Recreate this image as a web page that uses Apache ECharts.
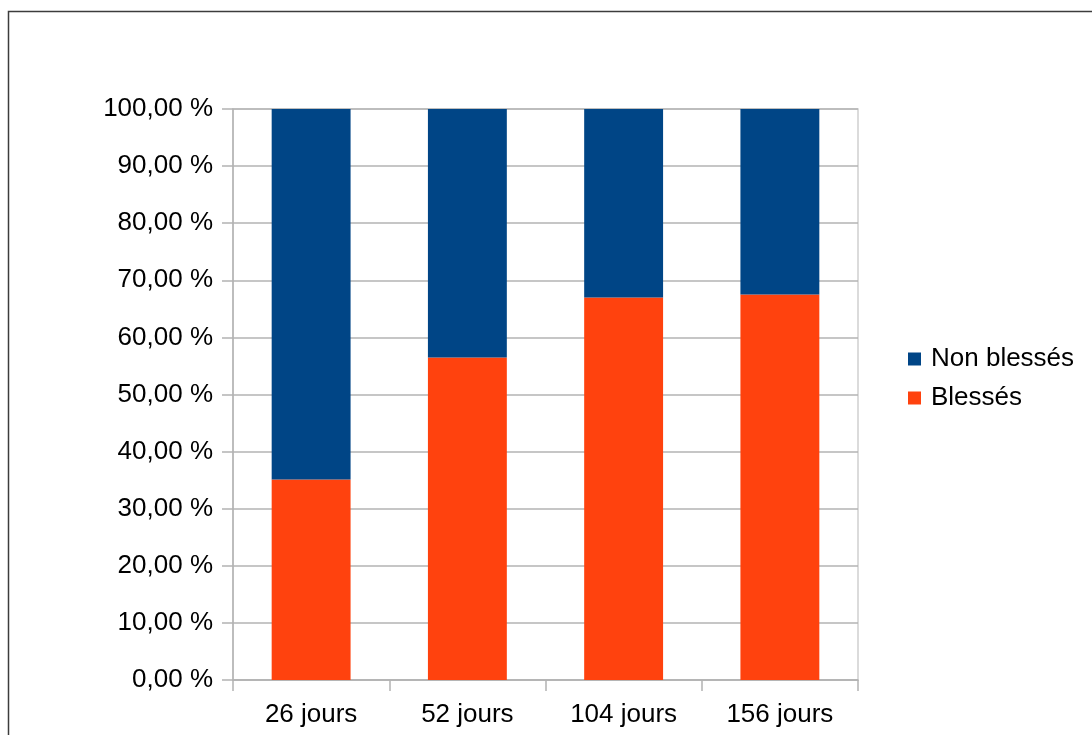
<!DOCTYPE html>
<html>
<head>
<meta charset="utf-8">
<style>
  html, body { margin: 0; padding: 0; background: #fff; }
  #chart { width: 1092px; height: 735px; }
</style>
<script src="https://cdn.jsdelivr.net/npm/echarts@6/dist/echarts.min.js"></script>
</head>
<body>
<div id="chart"></div>
<script>
const categories = ['26 jours', '52 jours', '104 jours', '156 jours'];
const blesses = [35.1, 56.5, 67.0, 67.5];
const nonBlesses = [64.9, 43.5, 33.0, 32.5];

const chart = echarts.init(document.getElementById('chart'));

const font = '"Liberation Sans", Arial, sans-serif';

const option = {
  animation: false,
  textStyle: { fontFamily: font },
  graphic: [
    {
      type: 'rect',
      shape: { x: 8.5, y: 11.5, width: 1200, height: 800 },
      style: { fill: 'none', stroke: '#3c3c3c', lineWidth: 1.5 },
      silent: true
    }
  ],
  legend: {
    orient: 'vertical',
    left: 908,
    top: 346,
    padding: 0,
    itemWidth: 13,
    itemHeight: 13,
    itemGap: 13,
    icon: 'rect',
    data: ['Non blessés', 'Blessés'],
    textStyle: { fontSize: 26, color: '#000', fontFamily: font, padding: [0, 0, 0, 5] }
  },
  grid: {
    left: 233,
    right: 234,
    top: 109,
    bottom: 55,
    show: true,
    borderColor: '#d0d0d0',
    borderWidth: 1.5
  },
  xAxis: {
    type: 'category',
    data: categories,
    axisLine: { lineStyle: { color: '#b3b3b3', width: 1.5 } },
    axisTick: { show: true, length: 11, lineStyle: { color: '#b3b3b3', width: 1.5 } },
    axisLabel: { fontSize: 26, color: '#000', margin: 22, fontFamily: font }
  },
  yAxis: {
    type: 'value',
    min: 0,
    max: 100,
    interval: 10,
    axisLine: { show: true, lineStyle: { color: '#b3b3b3', width: 1.5 } },
    axisTick: { show: true, length: 11, lineStyle: { color: '#b3b3b3', width: 1.5 } },
    splitLine: { lineStyle: { color: '#b3b3b3', width: 1.5 } },
    axisLabel: {
      fontSize: 26,
      color: '#000',
      margin: 20,
      fontFamily: font,
      formatter: v => v.toFixed(2).replace('.', ',') + ' %'
    }
  },
  series: [
    {
      name: 'Blessés',
      type: 'bar',
      stack: 'total',
      barWidth: '50.5%',
      data: blesses,
      itemStyle: { color: '#ff420e' }
    },
    {
      name: 'Non blessés',
      type: 'bar',
      stack: 'total',
      data: nonBlesses,
      itemStyle: { color: '#004586' }
    }
  ]
};

chart.setOption(option);
</script>
</body>
</html>
